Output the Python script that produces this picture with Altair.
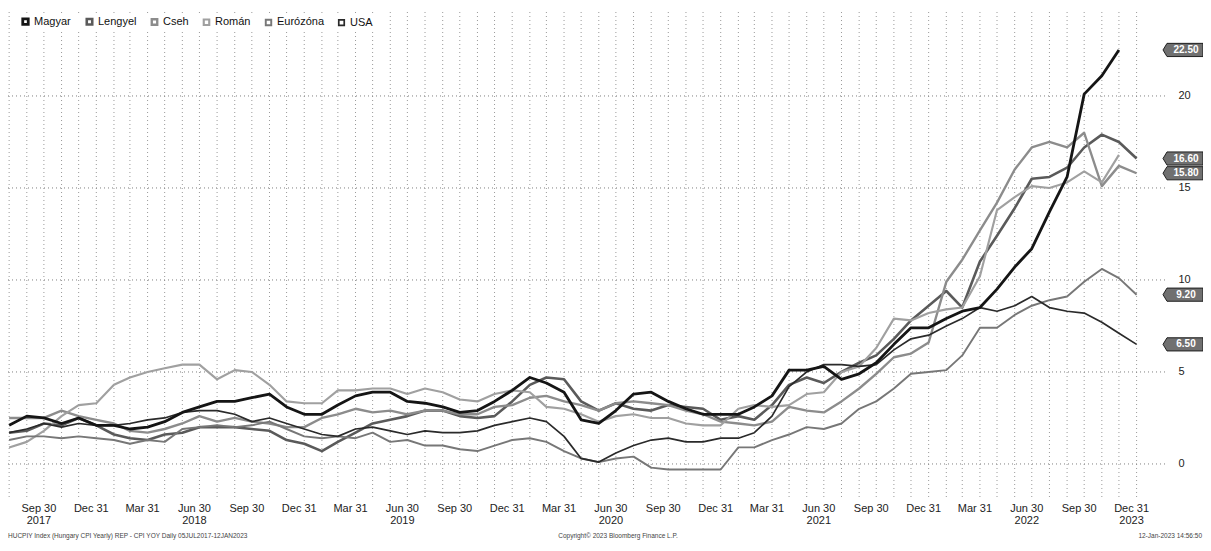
import altair as alt
import pandas as pd

# ---------------- data ----------------
series_names = ["Magyar", "Lengyel", "Cseh", "Román", "Eurózóna", "USA"]

# monthly observations, Jul 2017 .. Dec 2022 (month-end dated)
magyar = [2.1, 2.6, 2.5, 2.2, 2.5, 2.1,
          2.1, 1.9, 2.0, 2.3, 2.8, 3.1, 3.4, 3.4, 3.6, 3.8, 3.1, 2.7,
          2.7, 3.2, 3.7, 3.9, 3.9, 3.4, 3.3, 3.1, 2.8, 2.9, 3.4, 4.0,
          4.7, 4.4, 3.9, 2.4, 2.2, 2.9, 3.8, 3.9, 3.4, 3.0, 2.7, 2.7,
          2.7, 3.1, 3.7, 5.1, 5.1, 5.3, 4.6, 4.9, 5.5, 6.5, 7.4, 7.4,
          7.9, 8.3, 8.5, 9.5, 10.7, 11.7, 13.7, 15.6, 20.1, 21.1, 22.5, None]
lengyel = [1.7, 1.8, 2.2, 2.1, 2.5, 2.1,
           1.6, 1.4, 1.3, 1.6, 1.7, 2.0, 2.0, 2.0, 1.9, 1.8, 1.3, 1.1,
           0.7, 1.2, 1.7, 2.2, 2.4, 2.6, 2.9, 2.9, 2.6, 2.5, 2.6, 3.4,
           4.3, 4.7, 4.6, 3.4, 2.9, 3.3, 3.0, 2.9, 3.2, 3.1, 3.0, 2.4,
           2.6, 2.4, 3.2, 4.3, 4.7, 4.4, 5.0, 5.5, 5.9, 6.8, 7.8, 8.6,
           9.4, 8.5, 11.0, 12.4, 13.9, 15.5, 15.6, 16.1, 17.2, 17.9, 17.5, 16.6]
cseh = [2.5, 2.5, 2.5, 2.9, 2.6, 2.4,
        2.2, 1.8, 1.7, 1.9, 2.2, 2.6, 2.3, 2.5, 2.3, 2.2, 2.0, 2.0,
        2.5, 2.7, 3.0, 2.8, 2.9, 2.7, 2.9, 2.9, 2.7, 2.7, 3.1, 3.2,
        3.6, 3.7, 3.4, 3.2, 2.9, 3.3, 3.4, 3.3, 3.2, 2.9, 2.7, 2.3,
        2.2, 2.1, 2.3, 3.1, 2.9, 2.8, 3.4, 4.1, 4.9, 5.8, 6.0, 6.6,
        9.9, 11.1, 12.7, 14.2, 16.0, 17.2, 17.5, 17.2, 18.0, 15.1, 16.2, 15.8]
roman = [0.9, 1.2, 1.8, 2.6, 3.2, 3.3,
         4.3, 4.7, 5.0, 5.2, 5.4, 5.4, 4.6, 5.1, 5.0, 4.3, 3.4, 3.3,
         3.3, 4.0, 4.0, 4.1, 4.1, 3.8, 4.1, 3.9, 3.5, 3.4, 3.8, 4.0,
         3.9, 3.1, 3.0, 2.7, 2.3, 2.6, 2.7, 2.5, 2.5, 2.2, 2.1, 2.1,
         3.0, 3.2, 3.1, 3.2, 3.8, 3.9, 5.0, 5.3, 6.3, 7.9, 7.8, 8.2,
         8.4, 8.5, 10.2, 13.8, 14.5, 15.1, 15.0, 15.3, 15.9, 15.3, 16.8, None]
eurozona = [1.3, 1.5, 1.5, 1.4, 1.5, 1.4,
            1.3, 1.1, 1.3, 1.2, 1.9, 2.0, 2.1, 2.0, 2.1, 2.3, 1.9, 1.5,
            1.4, 1.5, 1.4, 1.7, 1.2, 1.3, 1.0, 1.0, 0.8, 0.7, 1.0, 1.3,
            1.4, 1.2, 0.7, 0.3, 0.1, 0.3, 0.4, -0.2, -0.3, -0.3, -0.3, -0.3,
            0.9, 0.9, 1.3, 1.6, 2.0, 1.9, 2.2, 3.0, 3.4, 4.1, 4.9, 5.0,
            5.1, 5.9, 7.4, 7.4, 8.1, 8.6, 8.9, 9.1, 9.9, 10.6, 10.1, 9.2]
usa = [1.7, 1.9, 2.2, 2.0, 2.2, 2.1,
       2.1, 2.2, 2.4, 2.5, 2.8, 2.9, 2.9, 2.7, 2.3, 2.5, 2.2, 1.9,
       1.6, 1.5, 1.9, 2.0, 1.8, 1.6, 1.8, 1.7, 1.7, 1.8, 2.1, 2.3,
       2.5, 2.3, 1.5, 0.3, 0.1, 0.6, 1.0, 1.3, 1.4, 1.2, 1.2, 1.4,
       1.4, 1.7, 2.6, 4.2, 5.0, 5.4, 5.4, 5.3, 5.4, 6.2, 6.8, 7.0,
       7.5, 7.9, 8.5, 8.3, 8.6, 9.1, 8.5, 8.3, 8.2, 7.7, 7.1, 6.5]

series_values = [magyar, lengyel, cseh, roman, eurozona, usa]

# end-of-series value tags shown on the right
tag_series = ["Magyar", "Lengyel", "Cseh", "Eurózóna", "USA"]
tag_labels = ["22.50", "16.60", "15.80", "9.20", "6.50"]

# quarter axis labels
quarter_dates = ["2017-09-30", "2017-12-31", "2018-03-31", "2018-06-30", "2018-09-30",
                 "2018-12-31", "2019-03-31", "2019-06-30", "2019-09-30", "2019-12-31",
                 "2020-03-31", "2020-06-30", "2020-09-30", "2020-12-31", "2021-03-31",
                 "2021-06-30", "2021-09-30", "2021-12-31", "2022-03-31", "2022-06-30",
                 "2022-09-30", "2022-12-31"]
quarter_labels = ["Sep 30", "Dec 31", "Mar 31", "Jun 30"] * 5 + ["Sep 30", "Dec 31"]
year_labels = ["2017", "", "", "2018", "", "", "", "2019", "", "", "", "2020",
               "", "", "", "2021", "", "", "", "2022", "", "2023"]

y_ticks = [0, 5, 10, 15, 20]

footer_left = "HUCPIY Index (Hungary CPI Yearly) REP - CPI YOY   Daily 05JUL2017-12JAN2023"
footer_mid = "Copyright© 2023 Bloomberg Finance L.P."
footer_right = "12-Jan-2023 14:56:50"

# ---------------- tables ----------------
months = [(pd.Timestamp(2017, 7, 1) + pd.DateOffset(months=i) + pd.offsets.MonthEnd(0)).strftime("%Y-%m-%d")
          for i in range(66)]
rows = []
for name, vals in zip(series_names, series_values):
    for d, v in zip(months, vals):
        if v is not None:
            rows.append({"date": d, "series": name, "value": v})
df = pd.DataFrame(rows)

last_vals = {name: [v for v in vals if v is not None][-1] for name, vals in zip(series_names, series_values)}
tags = pd.DataFrame({"series": tag_series, "label": tag_labels,
                     "value": [last_vals[s] for s in tag_series]})
quarters = pd.DataFrame({"date": quarter_dates, "label": quarter_labels, "year": year_labels})
grid_months = pd.DataFrame({"date": months})
grid_y = pd.DataFrame({"value": y_ticks})

# ---------------- styling ----------------
FONT = "Liberation Sans Narrow, Liberation Sans, Arial, sans-serif"
W, H = 1136, 490
gray_range = ["#151515", "#5a5a5a", "#8c8c8c", "#a0a0a0", "#777777", "#2a2a2a"]
width_range = [2.8, 1.7, 1.5, 1.6, 1.8, 1.7]

x_scale = alt.Scale(domain=[alt.DateTime(year=2017, month=7, date=29, utc=True),
                            alt.DateTime(year=2023, month=1, date=13, utc=True)])
y_scale = alt.Scale(domain=[-1.85, 24.78], nice=False, zero=False)
color_scale = alt.Scale(domain=series_names, range=gray_range)
sw_scale = alt.Scale(domain=series_names, range=width_range)

y_axis = alt.Axis(orient="right", values=y_ticks, grid=False, domain=False, ticks=False,
                  labelPadding=34, labelFont=FONT, labelFontSize=11, labelColor="#222",
                  title=None, labelAlign="left")

vgrid = alt.Chart(grid_months).mark_rule(color="#9a9a9a", strokeDash=[1, 3], strokeWidth=1).encode(
    x=alt.X("date:T", scale=x_scale, axis=None),
    y=alt.value(4), y2=alt.value(H + 2),
)

hgrid = alt.Chart(grid_y).mark_rule(color="#808080", strokeDash=[1, 3], strokeWidth=1).encode(
    y=alt.Y("value:Q", scale=y_scale, axis=y_axis),
    x=alt.value(0), x2=alt.value(W + 22),
)

legend = alt.Legend(orient="none", legendX=10, legendY=6, direction="horizontal", title=None,
                    symbolType="square", symbolSize=30, symbolStrokeWidth=3,
                    labelFont=FONT, labelFontSize=11, labelColor="#111",
                    labelOffset=3, columnPadding=10, fillColor="white", padding=2)

others = alt.Chart(df).transform_filter(alt.datum.series != "Magyar").mark_line(
    strokeJoin="round", clip=True).encode(
    x=alt.X("date:T", scale=x_scale, axis=None),
    y=alt.Y("value:Q", scale=y_scale, axis=y_axis),
    color=alt.Color("series:N", scale=color_scale, legend=legend),
    strokeWidth=alt.StrokeWidth("series:N", scale=sw_scale, legend=None),
    detail="series:N",
)

magyar_line = alt.Chart(df).transform_filter(alt.datum.series == "Magyar").mark_line(
    strokeJoin="round", clip=True).encode(
    x=alt.X("date:T", scale=x_scale, axis=None),
    y=alt.Y("value:Q", scale=y_scale, axis=y_axis),
    color=alt.Color("series:N", scale=color_scale, legend=legend),
    strokeWidth=alt.StrokeWidth("series:N", scale=sw_scale, legend=None),
)

tag_shape = "M-1,0L-0.8,-0.33L1,-0.33L1,0.33L-0.8,0.33Z"
tag_box = alt.Chart(tags).mark_point(shape=tag_shape, size=1600, filled=True, fill="#707070",
                                     stroke="#111", strokeWidth=0.9, opacity=1).encode(
    y=alt.Y("value:Q", scale=y_scale, axis=y_axis),
    x=alt.value(W + 39),
)
tag_text = alt.Chart(tags).mark_text(font=FONT, fontSize=10, fontWeight="bold", color="#ffffff",
                                     align="center", baseline="middle").encode(
    y=alt.Y("value:Q", scale=y_scale, axis=y_axis),
    x=alt.value(W + 42),
    text="label:N",
)

qlab = alt.Chart(quarters).mark_text(font=FONT, fontSize=11, color="#222", align="center",
                                     baseline="middle", dx=-5).encode(
    x=alt.X("date:T", scale=x_scale, axis=None),
    y=alt.value(H + 11),
    text="label:N",
)
ylab = alt.Chart(quarters).mark_text(font=FONT, fontSize=11, color="#222", align="center",
                                     baseline="middle", dx=-5).encode(
    x=alt.X("date:T", scale=x_scale, axis=None),
    y=alt.value(H + 23),
    text="year:N",
)

f_left = alt.Chart(pd.DataFrame({"t": [footer_left]})).mark_text(
    font=FONT, fontSize=6.5, color="#444", align="left", baseline="middle").encode(
    x=alt.value(0), y=alt.value(H + 38), text="t:N")
f_mid = alt.Chart(pd.DataFrame({"t": [footer_mid]})).mark_text(
    font=FONT, fontSize=6.5, color="#444", align="center", baseline="middle").encode(
    x=alt.value(610), y=alt.value(H + 38), text="t:N")
f_right = alt.Chart(pd.DataFrame({"t": [footer_right]})).mark_text(
    font=FONT, fontSize=6.5, color="#444", align="right", baseline="middle").encode(
    x=alt.value(W + 58), y=alt.value(H + 38), text="t:N")

chart = alt.layer(vgrid, hgrid, others, magyar_line, tag_box, tag_text, qlab, ylab,
                  f_left, f_mid, f_right).properties(
    width=W, height=H,
    autosize=alt.AutoSizeParams(type="none"),
    padding={"left": 0, "top": 0, "right": 59, "bottom": 45},
    background="white",
).configure_view(stroke=None)

chart.save("out.html", embed_options={"renderer": "svg", "actions": False})
